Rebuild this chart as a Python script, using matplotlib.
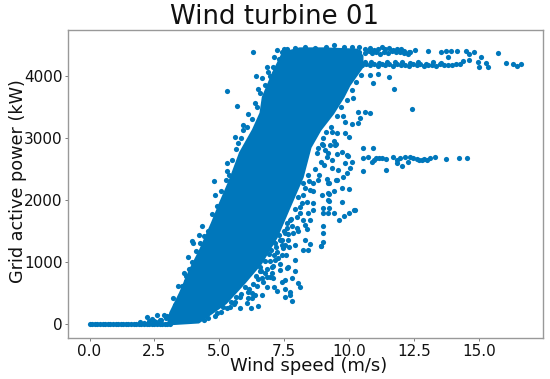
import matplotlib
matplotlib.use("Agg")
import matplotlib.pyplot as plt

TITLE = "Wind turbine 01"
XLABEL = "Wind speed (m/s)"
YLABEL = "Grid active power (kW)"
COLOR = "#0077BB"

# outline of the saturated core of the cloud
core_wind = [3.04, 3.12, 3.5, 3.88, 4.27, 4.73, 5.04, 5.42, 5.81, 6.31, 6.6, 6.69, 7.08, 7.46, 8.1,
             9.0, 10.3, 10.5, 10.5, 10.0, 9.77, 9.38, 8.88, 8.5, 8.2, 7.65, 7.2, 6.6, 5.95, 5.25, 4.2]
core_power = [0, 177, 500, 870, 1190, 1630, 1950, 2320, 2760, 3130, 3400, 3660, 4050, 4370, 4440,
              4440, 4420, 4320, 4145, 3850, 3660, 3400, 3130, 2850, 2370, 1840, 1400, 980, 660, 340, 30]

# standstill row
zero_wind = [0.0, 0.1, 0.2, 0.3, 0.4, 0.5, 0.6, 0.7, 0.8, 0.9, 1.0, 1.1, 1.2, 1.3, 1.4, 1.5,
             1.6, 1.7, 1.8, 1.9, 2.0, 2.1, 2.2, 2.3, 2.4, 2.5, 2.6, 2.7, 2.8, 2.9, 3.0, 3.1]
zero_power = [0] * len(zero_wind)

# upper plateau
top_wind = [7.5, 7.9, 8.3, 8.7, 9.1, 9.4, 9.8, 10.1, 10.4, 10.6, 10.8, 10.95, 11.1, 11.25, 11.4, 11.55, 11.7, 11.85, 12.0,
            12.12, 12.3, 10.4, 10.6, 10.75, 10.9, 11.05, 11.2, 11.35, 11.5, 11.65, 11.8, 11.95, 12.1, 12.25,
            12.35, 12.54, 13.04, 13.54, 13.73, 13.92, 14.14, 14.52, 14.6, 14.8, 15.73, 13.8, 15.1]
top_power = [4440, 4450, 4470, 4450, 4470, 4500, 4470, 4460, 4460, 4430, 4450, 4420, 4440, 4460, 4430, 4450, 4420, 4440, 4430,
             4410, 4390, 4390, 4370, 4400, 4370, 4390, 4360, 4390, 4370, 4400, 4380, 4390, 4370, 4350,
             4390, 4420, 4410, 4390, 4410, 4410, 4410, 4410, 4355, 4390, 4375, 4305, 4310]

# lower plateau
mid_wind = [10.5, 10.65, 10.8, 10.95, 11.1, 11.25, 11.4, 11.55, 11.7, 11.85, 12.0, 12.15, 12.3, 12.45, 12.6, 12.75, 12.9, 13.05, 13.2, 13.35,
            13.5, 13.65, 13.8, 10.6, 10.85, 11.15, 11.45, 11.75, 12.05, 12.35, 12.65, 12.95, 13.25, 13.55,
            13.95, 14.1, 14.27, 14.4, 14.6, 14.95, 15.27, 15.35, 15.0, 16.04, 16.3, 16.45, 16.64]
mid_power = [4170, 4190, 4170, 4200, 4160, 4190, 4170, 4190, 4160, 4190, 4170, 4180, 4160, 4190, 4170, 4190, 4160, 4180, 4170, 4160,
             4190, 4170, 4180, 4220, 4220, 4210, 4230, 4220, 4230, 4210, 4220, 4200, 4220, 4210,
             4170, 4190, 4200, 4250, 4260, 4230, 4210, 4150, 4150, 4210, 4190, 4160, 4190]

# derated plateau near 2650 kW
der_wind = [10.53, 10.73, 10.87, 10.95, 11.15, 11.42, 11.7, 11.83, 11.96, 11.85, 12.03, 12.15, 12.35, 12.27, 12.45, 12.6, 12.8, 13.0, 13.1, 13.3,
            13.73, 14.23, 14.54, 10.53, 10.93, 10.53, 11.42, 11.05, 11.25, 12.7, 12.9]
der_power = [2675, 2695, 2620, 2650, 2675, 2660, 2690, 2645, 2675, 2600, 2550, 2690, 2700, 2620, 2680, 2660, 2645, 2645, 2675, 2690,
             2660, 2680, 2675, 2845, 2835, 2470, 2480, 2670, 2675, 2640, 2660]

# scattered points to the right of the core
right_wind = [10.8, 11.1, 11.54, 10.93, 11.73, 12.42, 10.8, 10.6, 10.35, 10.42, 10.35, 10.1, 9.85, 9.33, 9.53, 9.85, 10.0,
              9.0, 9.0, 9.27, 9.5, 8.8, 9.08, 9.72, 9.92, 9.46, 9.53, 9.97, 10.1, 9.85, 10.04, 9.33, 9.14, 9.58, 9.33, 9.9,
              9.77, 9.53, 9.14, 9.23, 9.72, 10.0, 9.42, 9.72, 9.23, 9.23, 10.2, 10.0, 9.8, 9.6, 9.0, 9.0, 9.42, 9.23, 9.0, 9.0,
              8.42, 8.8, 9.2, 9.5, 8.92, 8.5, 8.23, 8.42, 8.3, 7.92, 7.92, 7.65, 7.92, 7.8, 8.03, 8.12, 7.54, 7.73, 7.54, 7.73,
              7.8, 7.22, 7.12, 6.83, 6.64, 6.5, 6.22, 5.81, 5.42, 6.07, 6.26, 6.38, 6.12, 5.81, 5.62, 7.54, 7.41, 7.6, 7.35,
              7.03, 7.03, 7.08, 6.83, 6.7, 6.58, 6.77, 7.22, 7.41, 7.15, 7.54, 7.41, 7.65, 7.54, 7.6, 7.98, 8.3, 8.37, 8.04,
              8.23, 8.5, 7.73, 8.12, 8.42, 8.62, 9.2, 8.95, 9.2, 8.62, 8.37, 8.12, 8.23, 8.5, 8.23, 8.62, 9.2, 10.23, 9.0, 8.92]
right_power = [4015, 4030, 3990, 3890, 3790, 3465, 3410, 3420, 3420, 3320, 3240, 3225, 3250, 3100, 3080, 3080, 3015,
               3000, 2885, 2885, 2900, 2840, 2805, 2780, 2725, 2885, 2740, 2710, 2620, 2595, 2515, 2645, 2700, 2485, 2515, 2435,
               2370, 2320, 2340, 2270, 2190, 2175, 2150, 1970, 1990, 2095, 1840, 1795, 1740, 1675, 1580, 1470, 1790, 1870, 1870, 1790,
               2400, 2320, 2270, 2320, 1260, 1290, 1190, 1190, 1355, 1275, 1030, 925, 860, 740, 665, 595, 560, 520, 440, 465,
               375, 530, 600, 600, 465, 290, 260, 260, 280, 340, 420, 465, 520, 440, 360, 710, 680, 900, 870,
               925, 820, 740, 765, 680, 925, 820, 1165, 1110, 1030, 1275, 1355, 1355, 1465, 1550, 1550, 1595, 1530, 1500,
               1680, 1680, 1670, 1790, 1790, 1840, 1790, 2080, 2000, 1950, 1970, 1890, 2080, 2160, 2270, 2270, 2110, 1840, 1330, 1260]

# clumps hugging the right rim of the core
rim_right_wind = [8.45, 8.6, 8.3, 8.05, 8.2, 7.9, 8.0, 7.75, 7.8, 7.5, 7.65, 7.35, 7.45, 7.2, 7.1, 7.25, 6.95, 6.85, 6.6, 6.5,
                  6.3, 6.45, 6.0, 6.15, 5.85, 5.65, 5.45, 5.3, 5.05, 4.85, 4.55, 4.4, 4.9, 5.15, 5.55, 8.7, 8.9, 8.75, 8.95, 9.1,
                  9.3, 9.55, 9.7, 9.9, 10.1, 10.25, 10.45, 9.95, 10.15, 9.75, 9.4, 9.2, 9.05, 8.85,
                  6.75, 6.9, 7.0, 7.05, 7.15, 7.3, 7.4, 6.65, 6.55, 6.4, 6.95, 7.55, 7.7, 7.6, 7.85, 7.35, 6.25, 6.1]
rim_right_power = [2300, 2150, 2200, 2050, 1950, 1850, 1720, 1700, 1580, 1500, 1450, 1350, 1220, 1240, 1120, 1060, 1010, 880, 850, 730,
                   640, 620, 590, 560, 480, 430, 360, 260, 200, 130, 90, 60, 170, 280, 330, 2500, 2620, 2750, 2900, 3100,
                   3180, 3350, 3500, 3620, 3780, 3900, 4020, 3950, 3650, 3350, 2950, 2760, 2560, 2400,
                   1020, 1130, 1200, 940, 1310, 1440, 1280, 740, 860, 780, 760, 1110, 1240, 1630, 1470, 960, 500, 420]

# scattered points and clumps to the left of the core
left_wind = [6.3, 6.42, 5.7, 5.3, 7.12, 7.22, 6.83, 6.88, 6.64, 6.5, 6.38, 6.12, 5.91, 5.91, 5.62, 5.73, 5.3, 5.3, 5.68, 5.38,
             4.8, 4.85, 4.33, 4.42, 4.2, 3.95, 4.0, 3.8, 3.62, 3.7, 3.85, 3.41, 3.23, 2.6, 2.22, 2.41, 2.85, 3.0, 2.7, 2.5,
             3.3, 3.55, 3.7, 3.95, 4.1, 4.25, 4.55, 4.7, 4.9, 5.05, 5.25, 5.5, 5.65, 5.85, 6.05, 6.25, 6.45, 6.55, 6.75, 6.95,
             7.05, 7.3, 7.4, 7.6, 1.93, 2.1, 2.3, 2.55, 2.75, 2.95]
left_power = [4385, 4000, 3515, 3760, 4310, 4420, 4145, 4070, 3965, 3790, 3565, 3385, 3210, 3130, 3020, 2920, 2600, 2470, 2565, 2400,
              2310, 2080, 1580, 1420, 1435, 1345, 1305, 1080, 820, 775, 885, 615, 420, 145, 118, 80, 145, 130, 60, 50,
              300, 620, 700, 1000, 1180, 1300, 1500, 1780, 1900, 2150, 2330, 2650, 2820, 3000, 3180, 3300, 3500, 3720, 3850, 4000,
              4150, 4280, 4380, 4440, 30, 20, 50, 40, 70, 90]

fig = plt.figure(figsize=(5.5, 3.79), dpi=100)
ax = fig.add_axes([68 / 550, 1 - 338 / 379, 475 / 550, 308 / 379])

ax.fill(core_wind, core_power, color=COLOR, lw=2)
for w, p in [(zero_wind, zero_power), (top_wind, top_power), (mid_wind, mid_power),
             (der_wind, der_power), (right_wind, right_power), (rim_right_wind, rim_right_power),
             (left_wind, left_power)]:
    ax.scatter(w, p, s=14, color=COLOR, linewidths=0)

ax.set_xlim(-0.83, 17.47)
ax.set_ylim(-226, 4742)
ax.set_xticks([0, 2.5, 5, 7.5, 10, 12.5, 15])
ax.set_xticklabels(["0.0", "2.5", "5.0", "7.5", "10.0", "12.5", "15.0"])
ax.set_yticks([0, 1000, 2000, 3000, 4000])
ax.tick_params(labelsize=11, length=2, width=0.6, color="#666666", pad=2, labelcolor="#111111")
for s in ax.spines.values():
    s.set_color("#999999")
    s.set_linewidth(1.0)
ax.set_title(TITLE, fontsize=18.7, color="#111111", pad=3, x=(275 - 68) / 475)
ax.set_xlabel(XLABEL, fontsize=12.9, color="#111111", labelpad=-1, x=(308.5 - 68) / 475)
ax.set_ylabel(YLABEL, fontsize=12.7, color="#111111", labelpad=-2, y=0.51)
fig.savefig("out.png", dpi=100)
